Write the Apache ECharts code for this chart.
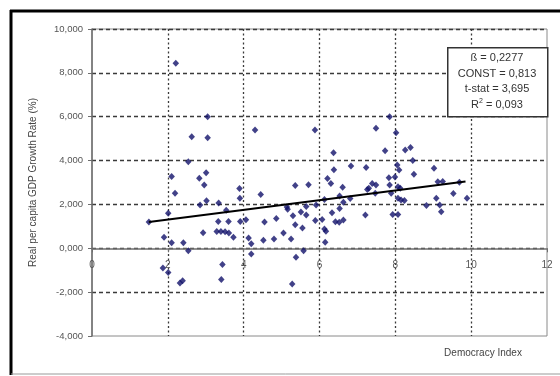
<!DOCTYPE html>
<html>
<head>
<meta charset="utf-8">
<script src="https://cdn.jsdelivr.net/npm/echarts@6/dist/echarts.min.js"></script>
<style>
  html, body { margin: 0; padding: 0; background: #fff; }
  #chart { width: 560px; height: 376px; }
</style>
</head>
<body>
<div id="chart"></div>
<script>
// democracy index (x) and real per capita GDP growth rate in % (y)
const democracyIndex = [
  2.21, 3.05, 2.63, 3.05, 4.30, 5.88, 7.85, 7.49, 8.02,
  2.54, 2.10, 3.01, 2.83, 2.96, 2.19, 3.89, 3.90, 3.02, 2.85, 3.34,
  3.54, 2.01, 3.33, 3.60, 3.91, 4.06, 4.45, 1.50, 1.90, 2.10,
  2.41, 2.54, 2.93, 3.29, 3.40, 3.51, 3.61, 3.73, 1.87, 2.01,
  2.39, 2.32, 3.44, 3.41, 4.13, 4.20, 4.20, 4.55, 4.86, 4.52,
  4.80, 5.25, 5.05, 5.58, 5.38, 5.28,
  6.37, 6.83, 6.38, 6.21, 6.30, 6.61, 5.36, 5.71, 6.53, 6.63,
  6.81, 6.13, 5.65, 5.91, 5.14, 5.16, 5.51, 5.65, 5.30, 6.33,
  6.53, 5.89, 6.07, 6.42, 6.52, 6.63, 5.36, 5.55, 6.13, 6.17,
  6.15, 7.23, 7.21,
  7.73, 8.26, 8.40, 8.46, 8.05, 8.10, 8.49, 9.02, 7.99, 7.83,
  7.39, 7.49, 7.30, 7.26, 7.85, 8.07, 7.47, 7.89, 8.13, 9.12,
  9.25, 9.69, 9.53, 9.89, 8.07, 8.15, 8.24, 9.08, 9.17, 8.82,
  9.21, 7.93, 8.07
];
const growthRate = [
  8.44, 6.00, 5.09, 5.04, 5.39, 5.39, 6.00, 5.47, 5.27,
  3.95, 3.27, 3.45, 3.19, 2.89, 2.51, 2.73, 2.28, 2.17, 1.97, 2.06,
  1.73, 1.60, 1.22, 1.22, 1.22, 1.30, 2.45, 1.20, 0.50, 0.25,
  0.25, -0.11, 0.71, 0.77, 0.77, 0.75, 0.70, 0.50, -0.90, -1.10,
  -1.48, -1.58, -0.74, -1.42, 0.47, 0.21, -0.26, 1.20, 1.36, 0.37,
  0.42, 0.42, 0.70, -0.11, -0.41, -1.63,
  4.36, 3.75, 3.58, 3.18, 2.96, 2.78, 2.86, 2.90, 2.38, 2.10,
  2.27, 2.23, 1.90, 1.97, 1.88, 1.78, 1.65, 1.52, 1.48, 1.62,
  1.82, 1.27, 1.31, 1.21, 1.19, 1.29, 1.07, 0.93, 0.88, 0.78,
  0.28, 3.68, 1.52,
  4.45, 4.48, 4.60, 4.00, 3.80, 3.57, 3.38, 3.65, 3.25, 3.22,
  2.96, 2.89, 2.74, 2.68, 2.89, 2.81, 2.51, 2.51, 2.74, 3.03,
  3.05, 3.01, 2.50, 2.28, 2.28, 2.20, 2.18, 2.28, 1.97, 1.95,
  1.67, 1.54, 1.54
];

// fitted line end points
const fitX = [1.5, 9.85];
const fitY = [1.2, 3.05];

const yMin = -4, yMax = 10;
const statsLines = ['ß = 0,2277', 'CONST = 0,813', 't-stat = 3,695', '{r|R}{sup|2}{r| = 0,093}'];
const yAxisTitle = 'Real per capita GDP Growth Rate (%)';
const xAxisTitle = 'Democracy Index';

const font = 'Liberation Sans, Arial, sans-serif';
const gridLeft = 92, gridRight = 13, gridTop = 29, gridBottom = 40;
const plotHeight = 376 - gridTop - gridBottom;
// lift the x axis (labels too) up to the zero line
const zeroOffset = -plotHeight * (0 - yMin) / (yMax - yMin);

const chart = echarts.init(document.getElementById('chart'), null, { renderer: 'canvas' });

chart.setOption({
  backgroundColor: '#fff',
  animation: false,
  grid: {
    left: gridLeft, right: gridRight, top: gridTop, bottom: gridBottom,
    show: true, borderColor: '#8a8a8a', borderWidth: 1, backgroundColor: '#fff',
  },
  xAxis: {
    type: 'value', min: 0, max: 12, interval: 2,
    offset: zeroOffset,
    axisLine: { onZero: false, lineStyle: { color: '#6e6e6e', width: 1.5 } },
    axisTick: { show: true, length: 4, inside: false, lineStyle: { color: '#6e6e6e' } },
    axisLabel: { color: '#555', fontFamily: font, fontSize: 10, margin: 12 },
    splitLine: {
      show: true, showMinLine: false, showMaxLine: false,
      lineStyle: { color: '#3a3a3a', width: 1.3, type: [2, 2.5] },
    },
  },
  yAxis: {
    type: 'value', min: yMin, max: yMax, interval: 2,
    name: yAxisTitle, nameLocation: 'middle', nameGap: 54,
    nameTextStyle: { color: '#444', fontFamily: font, fontSize: 10 },
    axisLine: { show: true, onZero: false, lineStyle: { color: '#6e6e6e', width: 1.5 } },
    axisTick: { show: true, length: 4, lineStyle: { color: '#6e6e6e' } },
    axisLabel: {
      color: '#555', fontFamily: font, fontSize: 9.5, margin: 9,
      formatter: (v) => v.toFixed(3).replace('.', ','),
    },
    splitLine: {
      show: true, showMinLine: false,
      lineStyle: { color: '#3a3a3a', width: 1.3, type: [4, 3] },
    },
  },
  series: [
    {
      type: 'scatter',
      symbol: 'diamond',
      symbolSize: [6.5, 7],
      itemStyle: { color: '#12126a' },
      data: democracyIndex.map((x, i) => [x, growthRate[i]]),
      z: 3,
    },
    {
      type: 'line',
      showSymbol: false,
      symbol: 'none',
      lineStyle: { color: '#000', width: 2 },
      data: fitX.map((x, i) => [x, fitY[i]]),
      z: 4,
    },
  ],
  graphic: [
    // outer frame
    { type: 'line', shape: { x1: 10, y1: 11, x2: 560, y2: 11 }, style: { stroke: '#000', lineWidth: 3 } },
    { type: 'line', shape: { x1: 11, y1: 10, x2: 11, y2: 375 }, style: { stroke: '#000', lineWidth: 3 } },
    { type: 'line', shape: { x1: 11, y1: 374, x2: 560, y2: 374 }, style: { stroke: '#999', lineWidth: 1 } },
    // stats box
    {
      type: 'rect', left: 447, top: 47, z: 10,
      shape: { width: 100, height: 69 },
      style: { fill: '#fff', stroke: '#333', lineWidth: 1.5 },
    },
    ...statsLines.map((line, i) => ({
      type: 'text', z: 11,
      x: 497, y: 58 + i * 15.5,
      style: {
        text: line, fill: '#333', font: '11px ' + font,
        align: 'center', verticalAlign: 'middle',
        rich: {
          r: { fontSize: 11, fontFamily: font, fill: '#333' },
          sup: { fontSize: 7, fontFamily: font, fill: '#333', verticalAlign: 'top', padding: [0, 0, 6, 0] },
        },
      },
    })),
    // x axis title
    {
      type: 'text', x: 483, y: 353,
      style: { text: xAxisTitle, fill: '#444', font: '10px ' + font, align: 'center', verticalAlign: 'middle' },
    },
  ],
});
</script>
</body>
</html>
